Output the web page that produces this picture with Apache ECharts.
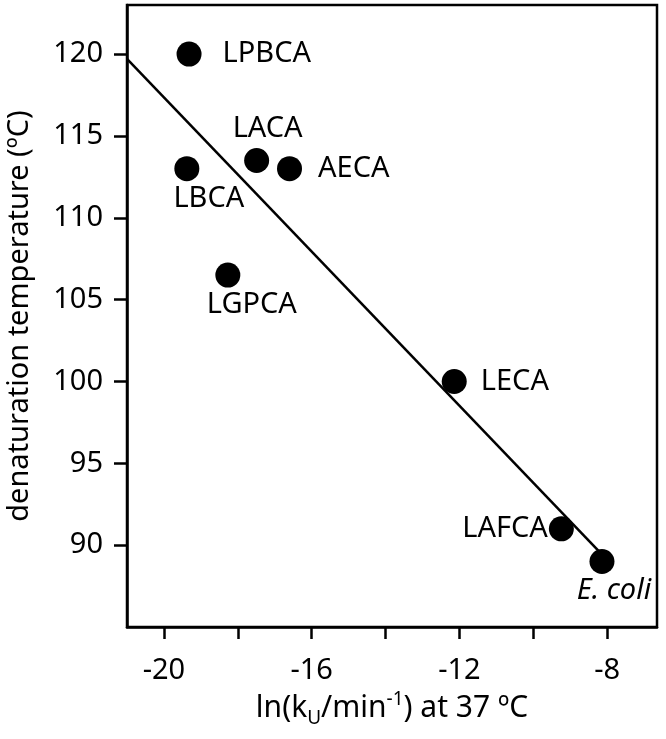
<!DOCTYPE html>
<html>
<head>
<meta charset="utf-8">
<script src="https://cdn.jsdelivr.net/npm/echarts@6/dist/echarts.min.js"></script>
<style>
  html, body { margin: 0; padding: 0; background: #fff; }
  #main { width: 666px; height: 739px; }
</style>
</head>
<body>
<div id="main"></div>
<script>
// enzymes, ln(kU) at 37 C, denaturation temperature
var names = ['LPBCA', 'LACA', 'AECA', 'LBCA', 'LGPCA', 'LECA', 'LAFCA', 'E. coli'];
var lnKu = [-19.32, -17.49, -16.6, -19.38, -18.27, -12.14, -9.24, -8.14];
var tDenat = [120, 113.5, 113, 113, 106.5, 100, 91, 89];
var fitRange = [-21, -8.2];
var xTicks = [-20, -18, -16, -14, -12, -10, -8];
var xTickLabels = [-20, -16, -12, -8];
var yTicks = [90, 95, 100, 105, 110, 115, 120];

// label placement per point (style only)
var labelPos = {
  'LPBCA': { position: 'right', distance: 21 },
  'LACA': { position: 'top', distance: 5, offset: [11, 0] },
  'AECA': { position: 'right', distance: 16 },
  'LBCA': { position: 'bottom', distance: 3, offset: [22, 0] },
  'LGPCA': { position: 'bottom', distance: 3, offset: [24, 0] },
  'LECA': { position: 'right', distance: 14 },
  'LAFCA': { position: 'left', distance: 1 },
  'E. coli': { position: 'bottom', distance: 2, offset: [12, 0], fontStyle: 'italic' }
};

// least squares fit of the points
function fitLine(xs, ys) {
  var n = xs.length, mx = 0, my = 0;
  for (var i = 0; i < n; i++) { mx += xs[i]; my += ys[i]; }
  mx /= n; my /= n;
  var sxy = 0, sxx = 0;
  for (var j = 0; j < n; j++) {
    sxy += (xs[j] - mx) * (ys[j] - my);
    sxx += (xs[j] - mx) * (xs[j] - mx);
  }
  var b = sxy / sxx;
  return fitRange.map(function (x) { return [x, my + b * (x - mx)]; });
}

var FONT = 'Noto Sans';
var chart = echarts.init(document.getElementById('main'));

var points = names.map(function (n, i) {
  var lp = labelPos[n];
  return {
    name: n,
    value: [lnKu[i], tDenat[i]],
    label: Object.assign({ show: true, formatter: '{b}' }, lp)
  };
});

var option = {
  backgroundColor: '#fff',
  animation: false,
  grid: {
    left: 127, right: 9, top: 5, bottom: 112,
    outerBoundsMode: 'none',
    containLabel: false,
    show: true, borderColor: '#000', borderWidth: 2.5, backgroundColor: 'transparent'
  },
  xAxis: {
    type: 'value',
    min: -21,
    max: -6.65,
    name: '{a|ln(k}{sub|U}{a|/min}{sup|-1}{a|) at 37 ºC}',
    nameLocation: 'middle',
    nameGap: 56,
    nameTextStyle: {
      color: '#000', fontFamily: FONT, fontSize: 30,
      rich: {
        a: { fontSize: 30, fontFamily: FONT, color: '#000', lineHeight: 38 },
        sub: { fontSize: 19, fontFamily: FONT, color: '#000', verticalAlign: 'bottom', lineHeight: 38, padding: [14, 0, 0, 0] },
        sup: { fontSize: 19, fontFamily: FONT, color: '#000', verticalAlign: 'top', lineHeight: 38, padding: [0, 0, 16, 0] }
      }
    },
    axisLine: { show: true, onZero: false, lineStyle: { color: '#000', width: 2.5 } },
    axisTick: { show: true, customValues: xTicks, length: 12, lineStyle: { color: '#000', width: 2.5 } },
    axisLabel: { customValues: xTickLabels, margin: 29, color: '#000', fontFamily: FONT, fontSize: 29 },
    splitLine: { show: false }
  },
  yAxis: {
    type: 'value',
    min: 85,
    max: 123,
    name: 'denaturation temperature (ºC)',
    nameLocation: 'middle',
    nameRotate: 90,
    nameGap: 93,
    nameTextStyle: { color: '#000', fontFamily: FONT, fontSize: 29 },
    axisLine: { show: true, onZero: false, lineStyle: { color: '#000', width: 2.5 } },
    axisTick: { show: true, customValues: yTicks, length: 13, lineStyle: { color: '#000', width: 2.5 } },
    axisLabel: { customValues: yTicks, margin: 24, color: '#000', fontFamily: FONT, fontSize: 29 },
    splitLine: { show: false }
  },
  series: [
    {
      type: 'line',
      data: fitLine(lnKu, tDenat),
      symbol: 'none',
      lineStyle: { color: '#000', width: 2.5 },
      z: 2
    },
    {
      type: 'scatter',
      data: points,
      symbol: 'circle',
      symbolSize: 25,
      itemStyle: { color: '#000', opacity: 1 },
      label: { color: '#000', fontFamily: FONT, fontSize: 29 },
      z: 3
    }
  ]
};
chart.setOption(option);
</script>
</body>
</html>
